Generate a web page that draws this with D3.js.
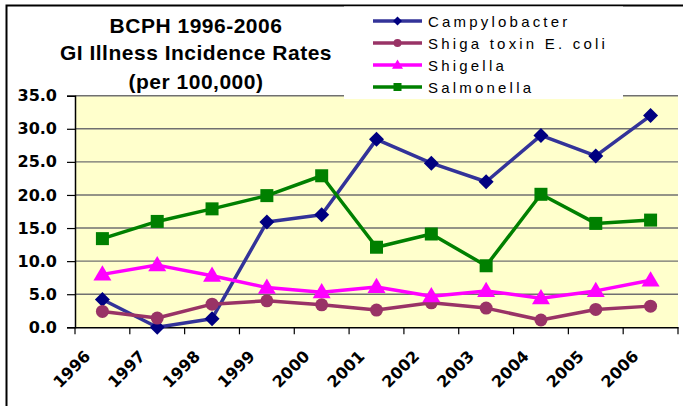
<!DOCTYPE html>
<html>
<head>
<meta charset="utf-8">
<script src="https://cdn.jsdelivr.net/npm/d3@7"></script>
<style>
  html, body { margin: 0; padding: 0; background: #fff; }
  svg { display: block; }
</style>
</head>
<body>
<svg id="chart" width="686" height="406"></svg>
<script>
const years = ["1996","1997","1998","1999","2000","2001","2002","2003","2004","2005","2006"];
const campylobacter = [4.2, 0.0, 1.3, 15.9, 17.0, 28.4, 24.8, 22.0, 29.0, 25.9, 32.0];
const shigaToxin    = [2.4, 1.4, 3.5, 4.0, 3.4, 2.6, 3.7, 2.9, 1.1, 2.7, 3.2];
const shigella      = [8.0, 9.4, 7.8, 6.0, 5.3, 6.1, 4.7, 5.5, 4.4, 5.5, 7.1];
const salmonella    = [13.4, 16.0, 17.9, 19.9, 22.9, 12.1, 14.1, 9.3, 20.1, 15.7, 16.2];
const seriesNames   = ["Campylobacter", "Shiga toxin E. coli", "Shigella", "Salmonella"];
const yTicks        = [0, 5, 10, 15, 20, 25, 30, 35];
const titleLines    = ["BCPH 1996-2006", "GI Illness Incidence Rates", "(per 100,000)"];

const seriesValues = [campylobacter, shigaToxin, shigella, salmonella];
const styles = [
  { line: "#333399", fill: "#000080", shape: "diamond" },
  { line: "#993366", fill: "#993366", shape: "circle" },
  { line: "#FF00FF", fill: "#FF00FF", shape: "triangle" },
  { line: "#008000", fill: "#008000", shape: "square" }
];

const svg = d3.select("#chart");
const L = 75, R = 678, T = 95.7, B = 327.3;

const x = d3.scaleBand().domain(years).range([L, R]).padding(0);
const y = d3.scaleLinear().domain([0, 35]).range([B, T]);
const cx = d => x(d) + x.bandwidth() / 2;

// outer frame (left and top visible)
svg.append("path").attr("d", `M6.5,406 V5.5 H683`).attr("fill", "none")
  .attr("stroke", "#000").attr("stroke-width", 2);

// plot background
svg.append("rect").attr("x", L).attr("y", T).attr("width", R - L).attr("height", B - T)
  .attr("fill", "#FFFFCC");

// gridlines
svg.append("g").selectAll("line").data(yTicks.filter(v => v > 0)).join("line")
  .attr("x1", L).attr("x2", R).attr("y1", d => y(d)).attr("y2", d => y(d))
  .attr("stroke", "#707070").attr("stroke-width", 1.4);

// y axis
const yAxis = svg.append("g").attr("transform", `translate(${L},0)`)
  .call(d3.axisLeft(y).tickValues(yTicks).tickFormat(d3.format(".1f")).tickSize(8).tickPadding(10));
yAxis.select(".domain").attr("stroke", "#000").attr("stroke-width", 1.5);
yAxis.selectAll(".tick line").attr("stroke", "#000").attr("stroke-width", 1.2);
yAxis.selectAll("text").attr("font-family", "DejaVu Sans").attr("font-weight", "bold")
  .attr("font-size", 16).attr("fill", "#000");

// x axis
const xAxis = svg.append("g").attr("transform", `translate(0,${B})`)
  .call(d3.axisBottom(x).tickSize(0).tickPadding(0));
xAxis.select(".domain").attr("stroke", "#000").attr("stroke-width", 1.5);
xAxis.selectAll(".tick text")
  .attr("y", 0).attr("dy", 0)
  .attr("transform", "translate(-11,30) rotate(-45)")
  .attr("text-anchor", "end")
  .attr("font-family", "DejaVu Sans").attr("font-weight", "bold")
  .attr("font-size", 16).attr("fill", "#000");
// boundary ticks
const bounds = years.map(d => x(d)).concat([R]);
svg.append("g").selectAll("line").data(bounds).join("line")
  .attr("x1", d => d).attr("x2", d => d).attr("y1", B).attr("y2", B + 7)
  .attr("stroke", "#000").attr("stroke-width", 1.2);

// marker generator
function marker(sel, shape, size) {
  const s = size;
  if (shape === "circle") {
    sel.append("circle").attr("r", s / 2);
  } else if (shape === "diamond") {
    sel.append("path").attr("d", `M0,${-s/2} L${s/2},0 L0,${s/2} L${-s/2},0 Z`);
  } else if (shape === "triangle") {
    const h = s * 0.85;
    sel.append("path").attr("d", `M0,${-h*0.6} L${s/2},${h*0.4} L${-s/2},${h*0.4} Z`);
  } else if (shape === "square") {
    sel.append("rect").attr("x", -s/2).attr("y", -s/2).attr("width", s).attr("height", s);
  }
}
const markerSize = { diamond: 15, circle: 13, triangle: 18, square: 13 };

// series
const line = d3.line().x((d, i) => cx(years[i])).y(d => y(d));
seriesValues.forEach((vals, si) => {
  const st = styles[si];
  const g = svg.append("g");
  g.append("path").datum(vals).attr("d", line).attr("fill", "none")
    .attr("stroke", st.line).attr("stroke-width", 3.5).attr("stroke-linejoin", "round");
  g.selectAll("g.m").data(vals).join("g").attr("class", "m")
    .attr("transform", (d, i) => `translate(${cx(years[i])},${y(d)})`)
    .attr("fill", st.fill)
    .each(function () { marker(d3.select(this), st.shape, markerSize[st.shape]); });
});

// legend
const lg = svg.append("g");
lg.append("rect").attr("x", 344).attr("y", 6.5).attr("width", 279).attr("height", 92.5).attr("fill", "#fff");
const legendY = [21, 43, 65, 87];
const legendSize = { diamond: 9, circle: 8, triangle: 11, square: 8 };
seriesNames.forEach((name, i) => {
  const st = styles[i];
  const row = lg.append("g").attr("transform", `translate(0,${legendY[i]})`);
  row.append("line").attr("x1", 373).attr("x2", 422).attr("y1", 0).attr("y2", 0)
    .attr("stroke", st.line).attr("stroke-width", 3.5);
  const m = row.append("g").attr("transform", "translate(397.5,0)").attr("fill", st.fill);
  marker(m, st.shape, legendSize[st.shape]);
  row.append("text").attr("x", 428).attr("y", 6).text(name)
    .attr("font-family", "Liberation Sans, Arial").attr("font-size", 15)
    .attr("letter-spacing", 3.2).attr("fill", "#000");
});

// title
const titleBase = [32.5, 60, 89];
svg.append("g").selectAll("text").data(titleLines).join("text")
  .attr("x", 196).attr("y", (d, i) => titleBase[i]).attr("text-anchor", "middle")
  .attr("font-family", "Liberation Sans, Arial").attr("font-weight", "bold")
  .attr("font-size", 21).attr("letter-spacing", 0.5).attr("fill", "#000")
  .text(d => d);
</script>
</body>
</html>
